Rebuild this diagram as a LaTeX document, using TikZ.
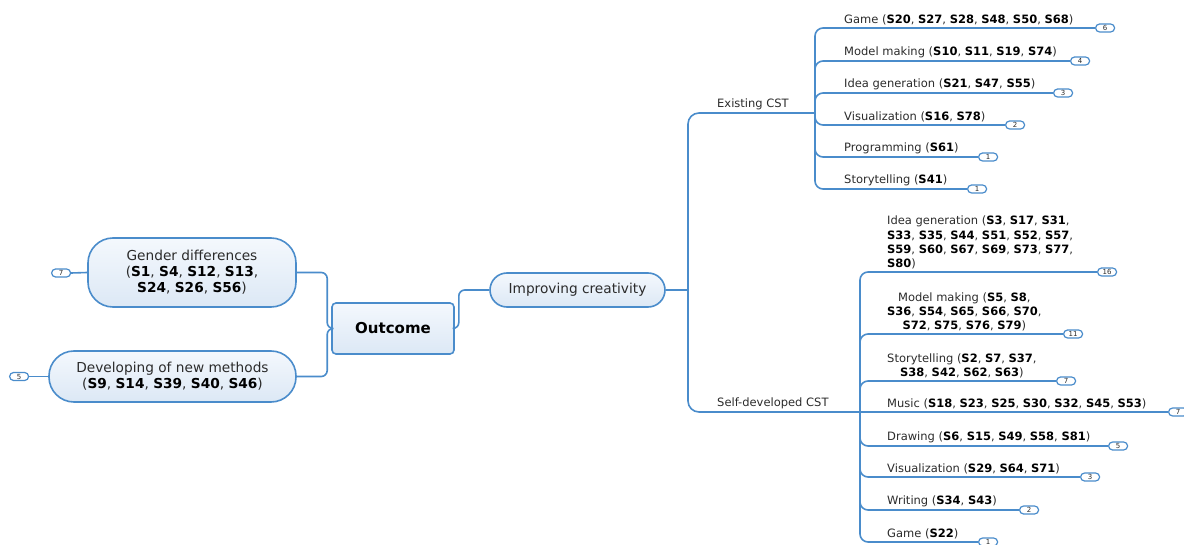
\documentclass[tikz,border=0pt]{standalone}
\usepackage{fontspec}
\setmainfont{DejaVu Sans}
\definecolor{edge}{HTML}{4A8CCB}
\definecolor{fillA}{HTML}{F4F8FD}
\definecolor{fillB}{HTML}{DCE8F5}
\definecolor{ink}{HTML}{2B2B2B}
\newcommand\sid[1]{\textbf{\color{black}#1}}
\tikzset{
  link/.style={draw=edge, line width=1.6pt, rounded corners=8pt},
  trunklink/.style={link, rounded corners=11pt},
  topic/.style={draw=edge, line width=1.6pt, top color=fillA, bottom color=fillB,
                text=ink, align=center, inner sep=0pt},
  pill/.style={topic, rounded corners=25pt, font=\fontsize{13.7}{16}\selectfont},
  badge/.style={draw=edge, line width=1.2pt, fill=white, rounded corners=4pt,
                minimum width=19pt, minimum height=8pt, inner sep=0pt,
                font=\fontsize{7}{7}\selectfont, text=ink, anchor=west},
  leaf/.style={anchor=south west, inner sep=0pt, text=ink,
               font=\fontsize{11.5}{14.3}\selectfont},
}
\begin{document}
\begin{tikzpicture}[x=1pt,y=-1pt]
\useasboundingbox (0,0) rectangle (1184,545);

% ---- central topic and its children ----
\node[topic, rounded corners=4pt, minimum width=122pt, minimum height=51pt,
      font=\fontsize{15}{18}\bfseries] (oc) at (393,328.5) {\color{black}Outcome};
\node[pill, minimum width=208pt, minimum height=69pt] (gd) at (192,272.5)
  {Gender differences\\ (\sid{S1}, \sid{S4}, \sid{S12}, \sid{S13},\\ \sid{S24}, \sid{S26}, \sid{S56})};
\node[pill, minimum width=247pt, minimum height=51pt] (dm) at (172.5,376.5)
  {Developing of new methods\\ (\sid{S9}, \sid{S14}, \sid{S39}, \sid{S40}, \sid{S46})};
\node[pill, rounded corners=17pt, minimum width=175pt, minimum height=34pt] (ic) at (577.5,290)
  {Improving creativity};

\node[badge] (bgd) at (51,273) {7};
\node[badge] (bdm) at (9,376.5) {5};

\draw[link, rounded corners=6pt] (oc.west) -- ++(-4,0) |- (gd.east);
\draw[link, rounded corners=6pt] (oc.west) -- ++(-4,0) |- (dm.east);
\draw[link, rounded corners=6pt] (oc.east) -- ++(4,0) |- (ic.west);
\draw[link] (gd.west) -- (bgd.east);
\draw[link] (dm.west) -- (bdm.east);

% ---- branch points ----
\coordinate (trunk) at (688,290);
\coordinate (ex) at (815,113);
\coordinate (sd) at (860,412);

\draw[link] (ic.east) -- (trunk);
\draw[trunklink] (trunk) |- (ex);
\draw[trunklink] (trunk) |- (sd);
\node[leaf] (lex) at (717,110.5) {Existing CST};
\node[leaf] (lsd) at (717,409.5) {Self-developed CST};

% ---- existing CST ----
\foreach \n/\y/\bx/\c in {e1/28/1095/6, e2/61/1070/4, e3/93/1053/3,
                          e4/125/1005/2, e5/157/978/1, e6/189/967/1}{
  \node[badge] (b\n) at (\bx,\y) {\c};
  \draw[link] (ex) |- (b\n.west);
}
\node[leaf] (le1) at (844,25.5) {Game (\sid{S20}, \sid{S27}, \sid{S28}, \sid{S48}, \sid{S50}, \sid{S68})};
\node[leaf] (le2) at (844,58.5) {Model making (\sid{S10}, \sid{S11}, \sid{S19}, \sid{S74})};
\node[leaf] (le3) at (844,90.5) {Idea generation (\sid{S21}, \sid{S47}, \sid{S55})};
\node[leaf] (le4) at (844,122.5) {Visualization (\sid{S16}, \sid{S78})};
\node[leaf] (le5) at (844,154.5) {Programming (\sid{S61})};
\node[leaf] (le6) at (844,186.5) {Storytelling (\sid{S41})};

% ---- self-developed CST ----
\foreach \n/\y/\bx/\c in {s1/272/1097/16, s2/334/1063/11, s3/381/1056/7,
                          s5/446/1108/5, s6/477/1080/3, s7/510/1019/2, s8/542/978/1}{
  \node[badge] (b\n) at (\bx,\y) {\c};
  \draw[link] (sd) |- (b\n.west);
}
\node[badge] (bs4) at (1168,412) {7};
\draw[link] (sd) -- (bs4.west);

\node[leaf, align=left] (ls1) at (887,269.5)
  {Idea generation (\sid{S3}, \sid{S17}, \sid{S31},\\
   \sid{S33}, \sid{S35}, \sid{S44}, \sid{S51}, \sid{S52}, \sid{S57},\\
   \sid{S59}, \sid{S60}, \sid{S67}, \sid{S69}, \sid{S73}, \sid{S77},\\
   \sid{S80})};
\node[leaf, align=center] (ls2) at (887,331.5)
  {Model making (\sid{S5}, \sid{S8},\\
   \sid{S36}, \sid{S54}, \sid{S65}, \sid{S66}, \sid{S70},\\
   \sid{S72}, \sid{S75}, \sid{S76}, \sid{S79})};
\node[leaf, align=center] (ls3) at (887,378.5)
  {Storytelling (\sid{S2}, \sid{S7}, \sid{S37},\\
   \sid{S38}, \sid{S42}, \sid{S62}, \sid{S63})};
\node[leaf] (ls4) at (887,409.5) {Music (\sid{S18}, \sid{S23}, \sid{S25}, \sid{S30}, \sid{S32}, \sid{S45}, \sid{S53})};
\node[leaf] (ls5) at (887,443.5) {Drawing (\sid{S6}, \sid{S15}, \sid{S49}, \sid{S58}, \sid{S81})};
\node[leaf] (ls6) at (887,474.5) {Visualization (\sid{S29}, \sid{S64}, \sid{S71})};
\node[leaf] (ls7) at (887,507.5) {Writing (\sid{S34}, \sid{S43})};
\node[leaf] (ls8) at (887,539.5) {Game (\sid{S22})};
\end{tikzpicture}
\end{document}
